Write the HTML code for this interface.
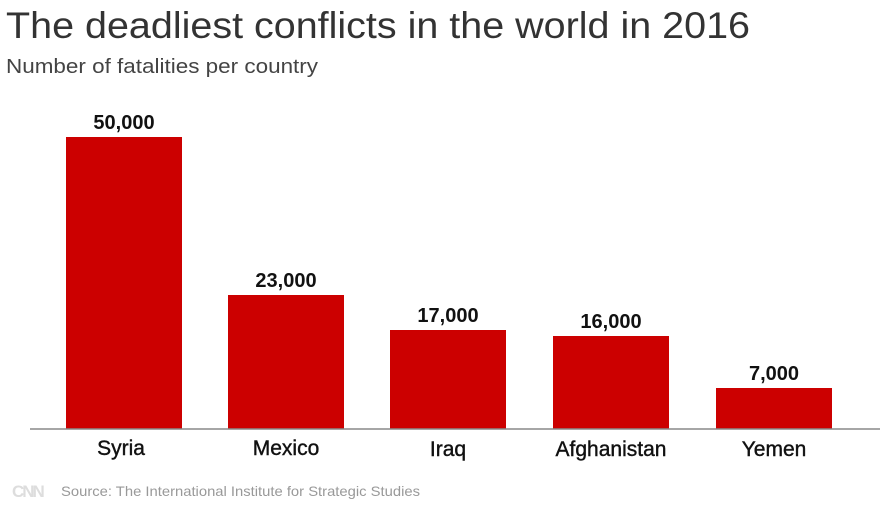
<!DOCTYPE html>
<html><head><meta charset="utf-8"><style>
body{margin:0;background:#fff;width:890px;height:505px;overflow:hidden;font-family:"Liberation Sans",sans-serif}
</style></head><body>
<svg width="890" height="505" xmlns="http://www.w3.org/2000/svg" font-family="Liberation Sans, sans-serif">
<text x="6" y="38" font-size="37" fill="#333" textLength="744" lengthAdjust="spacingAndGlyphs">The deadliest conflicts in the world in 2016</text>
<text x="6" y="73" font-size="20" fill="#444" textLength="312" lengthAdjust="spacingAndGlyphs">Number of fatalities per country</text>
<g fill="#cc0000">
<rect x="66" y="137" width="116" height="292"/>
<rect x="228" y="295" width="116" height="134"/>
<rect x="390" y="330" width="116" height="99"/>
<rect x="553" y="336" width="116" height="93"/>
<rect x="716" y="388" width="116" height="41"/>
</g>
<line x1="30" y1="429" x2="880" y2="429" stroke="#888" stroke-width="1.5"/>
<g font-size="20" font-weight="bold" fill="#111" text-anchor="middle">
<text x="124" y="129">50,000</text>
<text x="286" y="287">23,000</text>
<text x="448" y="322">17,000</text>
<text x="611" y="328">16,000</text>
<text x="774" y="380">7,000</text>
</g>
<g font-size="21" fill="#111" text-anchor="middle" stroke="#111" stroke-width="0.4">
<text x="121" y="455">Syria</text>
<text x="286" y="455">Mexico</text>
<text x="448" y="456">Iraq</text>
<text x="611" y="456">Afghanistan</text>
<text x="774" y="456">Yemen</text>
</g>
<text x="12" y="497" font-size="17" font-weight="bold" fill="#ddd" letter-spacing="-2">CNN</text>
<text x="61" y="496" font-size="14" fill="#999" textLength="359" lengthAdjust="spacingAndGlyphs">Source: The International Institute for Strategic Studies</text>
</svg>
</body></html>
